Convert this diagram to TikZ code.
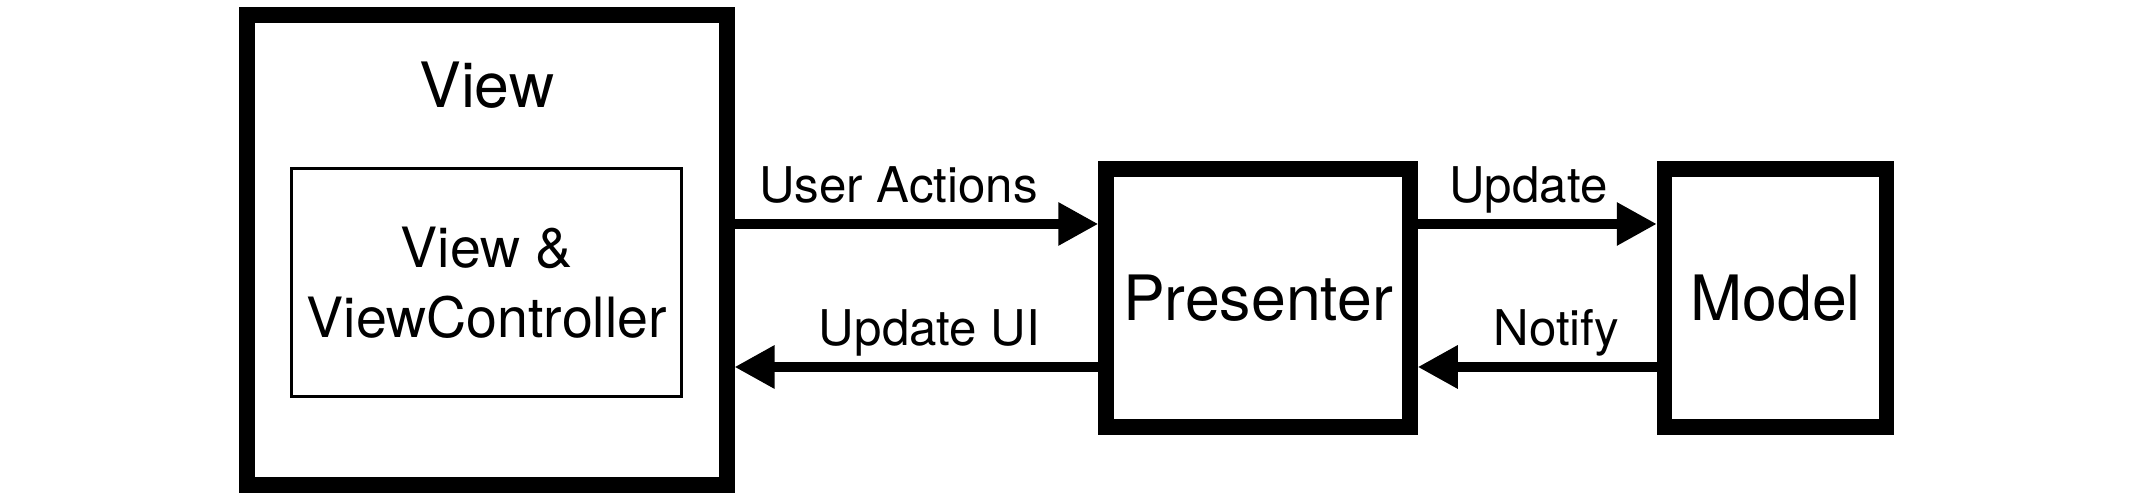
\documentclass[tikz,border=0pt]{standalone}
\usepackage{fontspec}
\setmainfont{TeX Gyre Heros}
\usetikzlibrary{arrows.meta,positioning}

\begin{document}
\begin{tikzpicture}[
  block/.style={draw, line width=0.155cm, minimum height=2.58cm, inner sep=0pt,
    font=\fontsize{17.8}{21}\selectfont},
  innerbox/.style={draw, line width=0.03cm, minimum width=3.90cm, minimum height=2.28cm,
    align=center, font=\fontsize{15.8}{19.9}\selectfont},
  flow/.style={-{Triangle[length=0.40cm, width=0.41cm]}, line width=0.093cm},
  msg/.style={anchor=base, yshift=0.21cm, font=\fontsize{14}{16}\selectfont}
]
  \useasboundingbox (0,0) rectangle (21.33,5.00);

  % View with its controller
  \node[block, minimum width=4.80cm, minimum height=4.70cm] (view) at (4.868,2.50) {};
  \node[anchor=base, font=\fontsize{17.8}{21}\selectfont] (viewtitle)
    at ([yshift=-1.0cm]view.north) {View};
  \node[innerbox] (vc) at ([yshift=-0.33cm]view.center) {View \&\\ViewController};

  % Presenter and Model
  \node[block, minimum width=3.04cm] (presenter) at (12.58,2.02) {Presenter};
  \node[block, minimum width=2.22cm, right=2.39cm of presenter] (model) {Model};

  % View <-> Presenter
  \coordinate (pin) at ([yshift=0.74cm]presenter.west);
  \coordinate (pout) at ([yshift=-0.69cm]presenter.west);
  \draw[flow] (view.east |- pin) -- node[msg, xshift=-0.18cm] {User Actions} (pin);
  \draw[flow] (pout) -- node[msg, xshift=0.13cm] {Update UI} (view.east |- pout);

  % Presenter <-> Model
  \draw[flow] ([yshift=0.74cm]presenter.east) -- node[msg, xshift=-0.09cm] {Update}
    ([yshift=0.74cm]model.west);
  \draw[flow] ([yshift=-0.69cm]model.west) -- node[msg, xshift=0.19cm] {Notify}
    ([yshift=-0.69cm]presenter.east);

\end{tikzpicture}
\end{document}
